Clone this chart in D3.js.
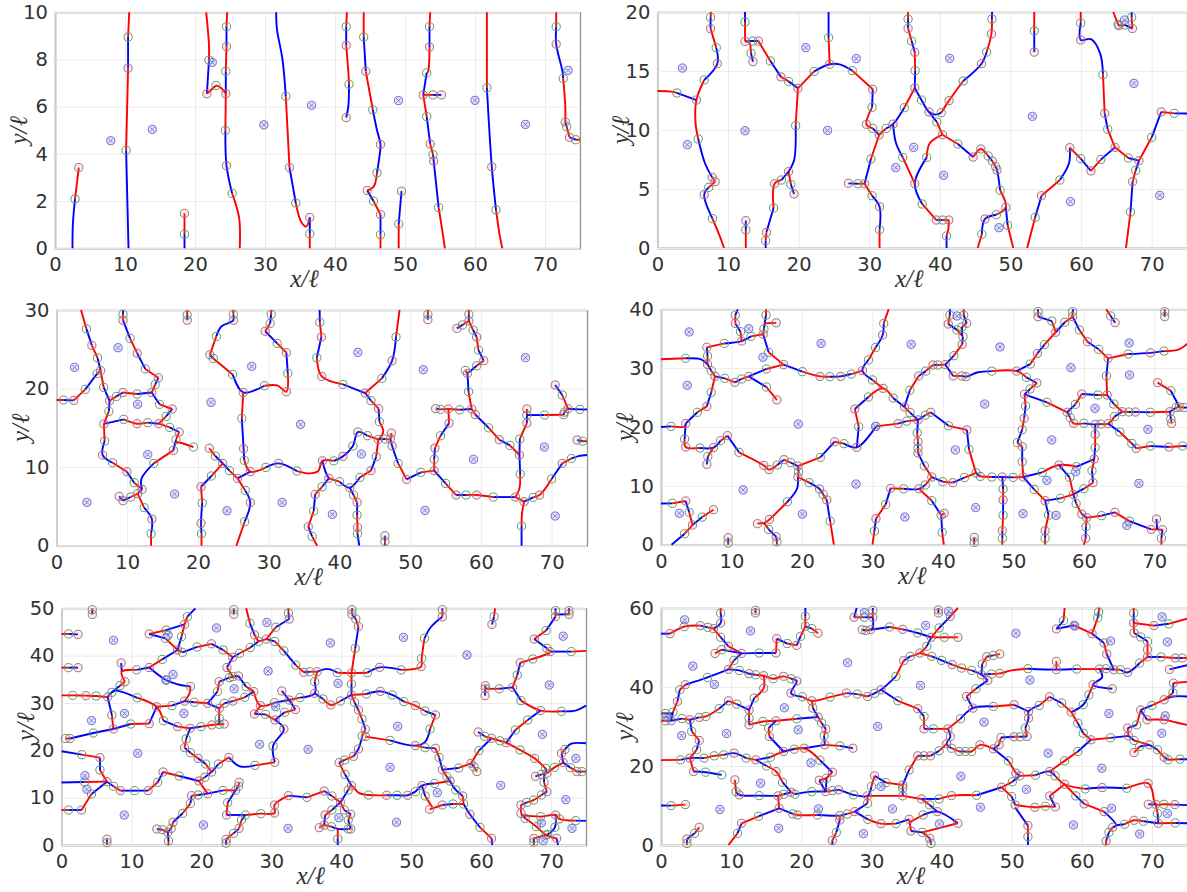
<!DOCTYPE html>
<html><head><meta charset="utf-8">
<script src="https://cdn.jsdelivr.net/npm/d3@7/dist/d3.min.js"></script>
<style>html,body{margin:0;padding:0;background:#fff}svg{display:block}
.tick text{font-family:"DejaVu Sans",sans-serif;font-size:19.5px;fill:#333}
.lab{font-family:"Liberation Serif","DejaVu Serif",serif;font-style:italic;font-size:25px;fill:#333}
</style></head><body><svg id="c" width="1187" height="892"></svg>
<script>
// marker codes: 1 green node, 2 pink node (colour switches there); 3 green, 4 pink (colour continues)
const curves1 = [
["r",[10.6,10],[10.44,8.95,1],[10.44,7.63,2],[10.16,4.15,1],[10.5,0]],
["b",[2.5,0],[2.55,1],[2.86,2.09,1],[3.4,3.42,2]],
["b",[18.5,0],[18.5,0.6,1],[18.5,1.48,2]],
["r",[24.6,10],[24.5,9.39,1],[24.5,8.55,2],[24.4,7.5,1],[24.4,6.55,2],[24.34,4.99,1],[24.5,3.5,4],[25.3,2.33,1],[26.3,1.3],[26.4,0]],
["r",[21.6,10],[22,8.6],[22,7.97,1],[21.7,6.55,2],[23,6.9,3]],
["r",[23,6.9],[23.7,6.8],[24.4,6.55]],
["b",[31.6,10],[31.7,9.3],[32.5,8],[32.97,6.44,1],[33.5,3.42,2],[34.4,1.92,1],[35.2,1.1],[35.9,0.92],[36.4,1.31,2],[36.4,0.62,1],[36.4,0]],
["r",[41.7,10],[41.6,9.39,1],[41.6,8.6,2],[41.9,7.5],[42,6.95,1],[41.9,6],[41.6,5.54,2]],
["r",[44.1,10],[44.1,8.95,1],[44.4,7.5,2],[45.4,5.87,1],[46,5],[46.5,4.4,4],[46.4,4],[46,3.2,1],[45.5,2.6],[44.6,2.45,2],[45.5,2,1],[46.5,1.43,2],[46.5,0.58,1],[46.5,0]],
["r",[49.1,0],[49.1,1.03,1],[49.5,2.42,2]],
["r",[53.6,10],[53.5,9.39,1],[53.5,8.53,2],[53.3,7.5],[53.1,7.43,1],[52.6,6.5,2],[53.1,5.58,1],[53.6,4.42,2],[54,3.97,1],[54.1,3.7,4],[54.8,1.73,1],[55.3,0.8],[55.7,0]],
["r",[52.6,6.5],[54,6.5,1],[55.2,6.5,2]],
["r",[61.7,10],[61.7,6.8,1],[62.4,3.45,4],[63,1.63,1],[63.5,0.6],[63.9,0]],
["r",[71.6,10],[71.6,9.39,1],[71.6,8.65,4],[72.5,7.5],[72.6,7.2,1],[72.9,6],[72.9,5.35,2],[73.1,5.15,1],[73.5,4.7,2],[74.4,4.6,1],[75,4.6]]
];
const crosses1 = [[7.97,4.56],[13.9,5.04],[22.47,7.88],[29.84,5.23],[36.65,6.06],[49.07,6.26],[60,6.27],[67.2,5.25],[73.3,7.54]];

const curves2 = [
["r",[7.6,20],[7.53,19.55,1],[7.53,18.59,2],[8.33,16.98,1],[8.49,15.62,4],[6.63,14.24,1],[5.52,12.54,4],[5.4,10.6],[5.78,9.24,1],[6.74,7.18],[7.75,5.99,2],[8.17,5.62,4]],
["r",[8.17,5.62],[7.27,5.14,1],[6.63,4.52,4],[7.8,2.49,1],[8.86,0.96],[9.44,0]],
["r",[0,13.3],[2,13.25],[2.76,13.14,1],[5.52,12.54]],
["b",[12.41,20],[12.41,19.15,1],[12.41,17.51,2],[13.5,17.54,3],[14.3,17.54,2],[16,15.85,1],[17.5,14.5,2],[18.57,14.12,1],[19.9,13.53,2],[22.2,14.97,1],[24.4,15.57,4],[25.8,15.56],[27.6,15.03,1],[30.5,13.45,2],[30.4,11.92,1],[29.6,10.48,4],[30.5,10.14,1],[31.4,9.58,2],[32.4,10.14,1],[33.37,10.5,4],[34.96,11.89,1],[36.45,13.56,2],[37.4,12.54,3],[38.46,11.53,4],[39.4,11.3],[40.2,11.47,1],[41.3,12.49,4],[43.3,14.15,1],[45.9,15.62,4],[46.63,16.61,1],[47.3,18.14,4],[47.37,19.4,1],[47.4,20]],
["r",[12.41,17.51],[13,17.4],[13.26,16.5,1],[13.53,15.79,2]],
["b",[24.24,20],[24.24,17.82,1],[24.4,15.57]],
["r",[19.9,13.53],[19.58,10.37,1],[19.36,7.46],[18.57,6.47,2],[18.9,5.4,1],[19.36,4.58,2]],
["b",[18.57,6.47],[17.56,5.76,1],[16.6,5.45,4],[16.45,3.39,1],[15.44,1.33,2],[15.33,0.62,1],[15.33,0]],
["b",[12.52,2.32,2],[12.52,1.53,1],[12.52,0]],
["r",[31.4,9.58],[30.24,7.54,1],[29.34,5.45,2],[28.4,5.45,1],[27.05,5.48,2]],
["r",[29.34,5.45],[30.4,4.43,1],[31.46,3.5,4],[31.46,1.55,1],[31.46,0]],
["r",[35.5,20],[35.5,19.4,1],[35.5,18.6,2],[36,17.54,1],[36.45,16.58,2],[36.5,15.03,1],[36.45,13.56]],
["b",[38.46,11.53],[39.57,10.68,1],[40.37,9.6,4]],
["r",[40.37,9.6],[38.57,8.87],[38.14,7.68,1],[36.45,5.45,4],[37.5,3.73,1],[39.5,2.37,2],[40.4,2.37,1],[41.27,2.37,2]],
["r",[41.27,2.37],[41.2,1.6],[40.95,1.02,1],[40.95,0]],
["b",[33.37,10.5],[33.8,8.87],[34.75,7.68,1],[36.45,5.45]],
["r",[40.37,9.6],[42.55,8.81,1],[44.72,7.71,2],[45.8,8.39,4],[46.84,7.8,1],[47.43,7.37,2],[47.9,6.9,1],[48.1,6.6,4],[48.54,4.89,1],[49.34,3.45,4],[48,2.82,1],[46.4,2.46,4],[45.94,1.16,1],[45.36,0]],
["b",[49.34,3.45],[49.6,1.92,1],[50.4,0]],
["r",[53.37,20],[53.37,18.4,1],[53.37,16.6,2]],
["r",[52.36,0],[53.5,2.6,1],[54.4,4.43,2],[57,5.76,1],[58.3,7.2],[58.4,8.5,2],[59.95,7.57,1],[61.4,6.53,2],[62.8,7.5,1],[64.8,8.53,2],[66.7,7.63,1],[68.2,7.4,4]],
["b",[68.2,7.4],[67.74,6.58,1],[67.3,5.62,2],[67,3.05,1],[66.36,0]],
["r",[68.2,7.4],[70,9.38,1],[71.35,11.53,2],[73.2,11.41,1],[75,11.4]],
["r",[59.95,20],[59.95,19.07,1],[59.95,17.63,4],[61.4,17.7],[62.7,16.5],[63.1,14.7,1],[63.34,11.41,2],[63.77,10.06,1],[64.8,8.53]],
["r",[64.56,20],[65.25,18.96,1],[65.36,18.84,2],[66.2,18.9,1],[67.27,18.6,2],[67.16,19.55,1],[67.16,20]]
];
const crosses2 = [[3.55,15.25],[4.24,8.76],[12.41,9.94],[21,16.98],[24.1,9.97],[28.17,16.05],[41.4,16.07],[36.3,8.53],[33.74,6.81],[40.53,6.16],[48.38,1.72],[53.1,11.16],[58.5,3.93],[67.48,13.95],[71.14,4.46],[66.15,19.32]];

const curves3 = [
["r",[3.47,30],[4.23,27.6,1],[5,25.5,2],[5.8,23.9,1],[6.24,22.3,2],[5.75,21.9,1],[4.07,19.9,1],[2.44,18.5,2],[0.98,18.54,1],[0,18.55]],
["r",[6.24,22.3],[6.67,20.15,1],[7.5,18.45,2],[8.47,19,1],[9.4,19.5,2],[11.4,19.3,1],[13.46,19.5,2],[13.95,20.5,1],[14.4,21.38,2],[12.55,22.5,1],[11.4,24.5,2],[10.4,26.4,1],[9.4,28.7,2],[9.4,29.45,1],[9.4,30]],
["b",[13.46,19.5],[14.57,18,1],[16.36,17.4,2],[15.5,16.46,1],[14.45,15.53,2],[12.9,15.66,1],[11.4,15.53,4],[9.5,16.08,1],[6.7,15.5,2]],
["b",[7.5,18.45],[7.4,17.1,1],[6.7,15.5]],
["r",[6.7,15.5],[6.8,13.33,1],[6.52,11.54,4],[7.93,10.56,1],[9.95,9.42,2],[10.98,8.02,1],[12.1,7.17,2],[11.47,6.62,4]],
["b",[9.4,5.73,2],[10.5,6.2,1],[11.47,6.62]],
["b",[8.86,6.28,2],[9.4,5.73]],
["r",[11.47,6.62],[12.39,4.84,1],[13.48,3.39,4],[13.37,1.53,1],[13.37,0]],
["r",[14.45,15.53],[16,15.06,1],[17.34,14.47,2],[16.9,13.49,1],[16.52,12.13,2],[13.75,10.48,1],[12,8.5],[12.1,7.17]],
["r",[16.8,13.2],[17.5,13.1],[19.35,12.56,1]],
["r",[18.48,30],[18.48,29.36,1],[18.48,28.7,2]],
["r",[25,30],[25,29.44,1],[25,28.68,4],[23.3,27.9],[22.6,26.64,1],[21.68,24.3,2],[22.17,23.84,1],[24.9,21.8,1],[26.4,19.5,4],[29.4,20.36,1],[31.2,20.4],[32.5,19.6,4],[32.7,21.93,1],[32.5,24.57,2],[31.2,25.75,1],[29.5,27.3,2],[30.2,28.3,1],[30.35,29.44,1],[30.35,30]],
["r",[26.4,19.5],[26.2,16.2,1],[26.45,12.35,4],[26.55,10.86,1],[27.4,9.42,4],[29.6,9.97,1],[31.4,10.48,4],[34,9.5,1],[35.8,9.2],[37,9.5],[37.6,10.8,4],[39.2,10.8,1],[40.5,11.37,4],[41.9,12.69,3],[42.6,14.47,4],[43.96,14,1],[45.5,13.53,2]],
["b",[27.4,9.42],[25.6,8.57,2],[24.45,9.55,1],[23.5,10.48,4],[22.45,11.41,1],[21.6,12.4,2]],
["r",[23.5,10.48],[21.9,8.87,1],[20.43,7.5,2],[20.6,5.43,1],[20.43,2.84,4],[20.5,1.53,1],[20.5,0]],
["r",[25.6,8.57],[26.68,7.04,1],[27.4,5.5,4],[26.6,3.05,1],[25.43,0]],
["b",[37.2,30],[37.23,28.43,1],[37.45,26.56,2],[36.8,23.93,1],[37.5,21.55,4],[40.5,20.53,1],[43.64,19.43,2],[46,21.3,1],[47.45,23.55,4],[48,26.56,1],[48.5,30]],
["b",[43.64,19.43],[44.46,18.46,1],[45.54,17.44,2],[45.65,15.78,1],[46.2,14.5],[45.54,13.53]],
["b",[45.5,13.53],[46.5,13.58,1],[47.2,13.6,4],[47.34,14.34,4]],
["b",[47.2,13.6],[47.45,12.68,4],[48.3,10.48,1],[49.5,8.44,2],[51.5,9.33,1],[53.4,9.55,2]],
["r",[45.5,13.53],[45.2,11.33,1],[44.46,9.55,2],[42.9,8.7,1],[41.46,7.38,4],[40,8.15,1],[38.5,8.57,2],[37.55,7.5,1],[36.57,6.53,2],[36.36,4.41,1],[35.6,2.42,2],[36.14,1.19,1],[36.85,0]],
["b",[37.6,10.8],[38,9.5],[38.5,8.57]],
["b",[41.46,7.38],[42,6.45,1],[42.5,5.5,2],[42.5,3.9,1],[42.55,2.33,4],[42.55,1.53,1],[42.8,0]],
["b",[46.43,1.27,2],[46.43,0.55,1],[46.43,0]],
["r",[52.5,30],[52.5,29.44,1],[52.5,28.77,2]],
["r",[53.4,9.55],[53.4,11,1],[53.5,12.43,2],[54.3,14,1],[55.5,15.6,2],[55.4,17.4,4]],
["b",[53.4,9.55],[55,7.93,1],[56.5,6.45,2],[57.9,6.45,1],[59.4,6.45,4],[61.75,6.19,1],[64.9,6.19,2],[66.1,5.6,4]],
["r",[64.9,6.19],[65.45,7.3],[65.55,9.12,1],[65.45,11.54,2],[64.1,12.77,1],[62.6,13.49,2],[61.1,15,1],[59.2,16.7,2],[58.7,17.4,2]],
["b",[65.45,11.54],[65.5,13.58,1],[66.5,15.6,2],[66.5,16.63,1],[66.5,17.4,2]],
["b",[66.5,16.63],[69,16.63,1],[71.7,16.67,2],[71.8,17,1],[72.3,17.44,2],[74,17.35,3],[75,17.35]],
["r",[72.3,17.44],[71.5,19.18,1],[70.5,20.45,2]],
["b",[58.7,17.4],[57,17.3,1],[55.4,17.4],[54.3,17.35,1],[53.6,17.44,2]],
["r",[58.7,17.4],[58.25,19.6,1],[58.1,21.93,2],[57.8,22.3,1]],
["b",[58.1,21.93],[59.4,22.9,1],[60.4,23.55,2],[59.65,24.9,1],[59.4,26.56,2],[58.9,27.45,1],[58.3,28.6,2],[58.3,29.44,1],[58.3,30]],
["r",[58.3,28.6],[57.4,28.1,1],[56.6,27.66,2]],
["b",[66.1,5.6],[67.4,6.15,1],[68.3,6.45,4],[70,8.49,1],[71.5,10.48,2],[72.8,11.1,1],[73.8,11.4],[75,11.54]],
["r",[66.1,5.6],[65.8,4],[65.75,2.5,1],[65.75,0]],
["b",[73.6,13.45,2],[74.4,13.3,1],[75,13.3]]
];
const crosses3 = [[2.55,22.7],[8.7,25.2],[4.3,5.52],[11.47,18],[12.9,11.6],[16.7,6.58],[21.85,18.24],[27.6,22.83],[24.1,4.45],[31.9,5.5],[34.5,15.44],[39,3.99],[42.6,24.6],[43.1,11.67],[51.85,22.4],[52.1,4.5],[58.96,11],[66.3,23.93],[68.97,12.56],[70.5,3.78]];

const curves4 = [
["b",[1.5,0],[3.35,1.87,1],[4.47,3.34,2],[5.85,4.7,1],[7.45,5.95,4]],
["b",[0,7],[1.6,7.03,1],[3.5,7.42,2],[4,5.5,1],[4.47,3.34]],
["b",[9.53,1.19,2],[9.53,0.3,1],[9.53,0]],
["b",[16.34,1.36,2],[16.44,0.5,1],[16.44,0]],
["r",[13.68,3.57,2],[14.58,3.63],[15.27,2.6,1],[16.34,1.36]],
["r",[14.58,3.63],[15.38,4.3,4],[17.94,7.3,1],[19.3,9.5],[19.42,11.5,2],[19.53,12.4,1],[19.42,13.37,2]],
["r",[19.42,11.5],[21.02,10.54,1],[22.5,9.46,4],[23,8.55,1],[23.52,7.6,2],[24,4,1],[24.53,0]],
["b",[0,20],[1.44,20.1,1],[3.4,20.1],[3.5,20.6,2],[3.35,17.96,1],[3.5,16.6,4],[5.53,16.43,1],[7.45,16.5,4],[8.46,17.68,1],[9.42,18.53,2],[11.07,15.7,1],[14.58,13.48,4],[15.33,12.75,4],[16.5,13.54,1],[17.45,14.45,2],[18.4,13.94,1],[19.42,13.37,2],[22.6,14.84,1],[24.64,17.5,2],[25.97,17.17,1],[27.78,16.54,4],[30.5,20.1,1],[33.63,20.57,2],[34.86,21,1],[36.46,21.2,2]],
["r",[7.45,16.5],[6.65,15,1],[6.5,13.65,2]],
["b",[27.78,16.54],[28.05,20.06,1],[27.5,23.06,2],[29.43,25.1,1],[31.5,26.57,4],[32.94,24.93,1],[34.54,23.4,2],[35.34,22.44,1],[36.46,21.2]],
["r",[31.5,26.57],[30,28,1],[28.58,29.58,4],[29.43,31.4,1],[30.44,33.5,1],[31.45,35.64,4],[31.6,37.6,1],[32.3,40]],
["r",[28.58,29.58],[27,29,1],[25.5,28.6,4],[23.95,28.55,1],[22.56,28.6,4],[20.06,29.4,1],[17.4,30.6,2],[15.27,32.7,1],[14.5,35.75,2],[14.6,36.66,1],[14.9,39,1],[14.9,40]],
["r",[14.6,37.6],[16.34,37.7,2]],
["r",[14.5,35.75],[12.77,35.4,1],[11.44,34.6,4],[9,34.2,1],[6.5,33.54,2],[6.6,32.07,1],[6.6,30.65,2],[7.13,29.57,1],[7.66,28.6,2],[9.05,28.27,1],[10.48,27.6,2],[11.44,28.16,1],[12.45,28.6,2],[14.95,26.8,1],[16.44,24.6,2]],
["b",[12.45,28.6],[14.95,29.86,1],[17.4,30.6]],
["r",[7.66,28.6],[7.13,25.9,1],[6.5,23.5,2],[5.16,22.5,1],[3.5,20.6]],
["r",[0,31.5],[3.5,31.67,1],[5.7,31.5],[6.6,30.65]],
["r",[11.44,34.6],[11.28,36.2,1],[10.54,37.6,2],[10.54,39,1],[10.9,40]],
["b",[36.46,21.2],[37.5,22,1],[38.27,22.5,2],[40.8,20.2,1],[43.4,19.5,2],[43.7,16.2,1],[44.7,12.2,1],[45.3,11.6,2]],
["b",[36.46,21.2],[36.35,19,1],[36.46,17.5,2],[36.46,16.4,1],[36.46,15.6,2],[37.36,13.4,1],[38.42,11.5,2],[39.97,10.7,1],[41.4,10.54,2],[43.05,11.4,1],[44.7,12.2]],
["r",[38.42,11.5],[37.5,10.14,1],[36.6,9.5,4],[34.43,9.5,1],[32.57,9.57,2],[31.88,6.85,1],[30.5,4.42,2],[30.28,2.32,1],[30,0]],
["r",[36.6,9.5],[38.42,7.48,1],[39.75,5,2],[40.18,5.33,4]],
["b",[39.75,5],[39.9,2.1,1],[40.13,0]],
["b",[34.54,23.4],[35.3,26.23,1],[36.56,28.67,2],[37.57,29.5,1],[38.6,30.54,2],[39.28,30.54,1],[40.34,30.6,2],[41.56,32.12,1],[42.73,34.05,2],[42.84,35.35,1],[41.99,36.5,1],[40.76,37.5,2],[40.98,39,1],[41,40]],
["r",[43.37,37.62,2],[42.7,37,1],[42.73,35.5]],
["b",[43.37,37.62],[42.95,39,1],[42.95,40]],
["b",[40.34,30.6],[41.46,28.67,2],[42.7,28.67,1],[43.27,28.55,4],[45,29.3],[46.94,29.5,1],[50.45,29.5,4],[51.84,28.44,1],[53.33,27.48,2],[52.37,26.46,1],[51.57,25.55,2],[51.73,23.57,1],[51.52,21.47,2],[51.25,19.55,1],[50.56,17.34,1],[51.25,16.66,2],[51.25,14.1,1],[51.4,11.5,2]],
["b",[51.57,25.55],[54.76,24.2,1],[57.64,22.5,2],[58.06,21.6,1],[58.54,20.62,4],[60,20.62,1],[61.6,20.45,4],[62.4,20.5,1],[63.44,20.57,4],[64.34,21.76,1],[65.46,22.6,2],[66.4,22.55,1],[67.32,22.55,4],[69.44,22.5,1],[72.2,22.6,2],[73.1,23.3,1],[73.55,23.4,4],[74.2,23.3,1],[75,23.3]],
["b",[72.2,22.6],[72.34,21.36,1],[72.45,20.62,2]],
["b",[57.64,22.5],[58.8,23.85,1],[59.7,25.6,2],[62,25.44,1],[63.3,25.44,2],[64.26,23.9,1],[65.46,22.6]],
["r",[63.3,25.44],[63.2,28.67,1],[63.44,31.67,2],[66.3,32.4,1],[69.45,32.6,4],[71.37,32.9,1],[73.5,33.2],[75,34.5]],
["r",[63.44,31.67],[62.1,33.2,1],[60.5,34.5,2],[59.35,36.5,1],[58.4,38.75,2],[58.4,39.6,1],[58.5,40]],
["r",[58.4,38.75],[57.3,37.8,1],[56,36.1,2],[54.4,34,1],[53.4,32.5,2],[52.4,30.7,1],[50.45,29.5]],
["r",[56,36.1],[55.45,38,1],[53.5,38.75,2],[53.5,39.6,1],[53.5,40]],
["r",[63.17,40],[63.8,38.87,1],[64.44,37.73,2]],
["b",[71.47,38.75,2],[71.47,39.6,1],[71.47,40]],
["r",[70.46,27.54,2],[72.34,26.17,1],[73.55,23.4]],
["b",[63.44,20.57],[65.1,19.15,1],[66.8,17.2,1],[67.43,16.37,2],[69.44,16.77,1],[72.06,16.6,2],[74,16.77,1],[75,16.7]],
["b",[61.6,20.45],[61.6,18.75,2],[61.6,16.5,1],[61.47,14.56,2],[61.15,12.58,1],[61.3,10.54,2],[60,9.52,1],[58.5,8.55,2],[56.68,7.88,1],[54.5,7.48,2],[52.95,9.4,1],[51.4,11.5]],
["b",[51.4,11.5],[54.1,12.3,1],[56.47,13.54,4],[58.97,13.26,1],[61.47,14.56]],
["b",[56.47,13.54],[57.97,11.44,1],[58.5,8.55]],
["b",[58.5,8.55],[58.9,7,1],[59.7,5.2,2],[60.4,4.6,2],[60.3,3.06,1],[60.25,1.08,2],[60,0]],
["r",[60.4,4.6],[62.5,4.93,1],[64.4,5.5,2],[66.47,4,1],[69.56,2.6,2],[70.4,2.6],[71.15,2.55,2],[71,1.08,1],[71,0]],
["b",[70.4,2.6],[70.3,4.36,2]],
["b",[54.5,7.48],[54.98,5.04,1],[54.5,2.38,2],[54.5,1.08,1],[54.5,0]],
["r",[48.43,0],[48.43,1.08,1],[48.43,2.38,2],[48.54,5,1],[48.54,7.6,2],[48.54,9.46,1],[48.43,11.5,2]],
["r",[45.3,11.6],[46.94,11.5,1],[48.43,11.5],[49.97,11.44,1],[51.4,11.5]],
["b",[44.44,1.25,2],[44.44,0.4,1],[44.44,0]]
];
const crosses4 = [[4,36.15],[3.73,27.08],[2.6,5.33],[12.45,36.7],[14.47,31.84],[11.65,9.3],[22.72,34.2],[19.48,20.5],[20.06,5.2],[27.67,10.3],[30.44,20.1],[34.6,4.7],[35.5,34.05],[41.78,16.1],[42,38.87],[45.93,23.9],[44.65,6.3],[48.1,33.6],[51.36,5.27],[54.76,10.93],[55.44,17.8],[56.05,4.99],[58.17,30.08],[58.84,12.4],[61.58,23.17],[66.1,3.29],[66.42,34.28],[66.47,28.84],[69.08,19.6],[67.8,10.42]];

const curves5 = [
["b",[4.4,48.7,2],[4.4,49.7,1],[4.4,50]],
["b",[2.36,44.5,2],[1,44.58,1],[0,44.58]],
["b",[2.36,37.46,2],[1,37.46,1],[0,37.46]],
["r",[0,31.6],[1.6,31.6,3],[3.5,31.55,4],[4.95,31.48,3],[6.6,31.27,2],[7.2,32.25,3],[7.8,32.6],[10.83,31.1,1],[13.6,29.2,4],[14.57,26.27,1],[16.6,25,2],[18.4,24.65,2],[19.96,25,1],[21.5,25.35,4],[22.55,25.5,3],[23.27,25.56,2]],
["b",[6.6,31.27],[7.2,27.46,1],[7.42,24.5,2],[9.9,25.56,1],[12.54,25.63,2],[13.6,29.2]],
["r",[0.55,22.5,1],[1.2,22.5,2],[4.56,23.66,3],[7.42,24.5]],
["r",[9.07,34.5,2],[8.36,33.66,1],[7.2,32.25]],
["b",[8.53,38.45,2],[8.6,37],[8.6,36.6]],
["r",[9.07,34.5],[8.6,36.6],[10.73,37,1],[12.54,37.5,2],[14.4,39.2,1],[16.6,41.2,2],[17.3,40.7,1],[19.4,41.83,1],[21.45,42.5,2],[23.1,41.2,1],[24.5,39.65,2],[25.47,40.5,1],[27,41.7,1],[28.16,43,1],[29.3,43.5,2],[30.5,43,1],[31.8,41,1],[33.5,38,1],[34.65,36.48,2],[35.5,36.6,1],[36.57,36.6,2],[38,37.2],[39.44,36.4,1],[41.47,36.34,4],[43.73,36.4,1],[45.5,37.53,4],[48.57,37,1],[51.43,37.68,4],[51.5,39.4,3],[51.9,43.66,1],[52.8,46],[54.46,48.2,2],[54.46,49.7,1],[54.46,50]],
["b",[12.54,37.5],[14.96,34.85,3],[17,33.8],[18.43,33.5,2],[18.3,32],[17.6,30.4,2],[19,30.14,1],[20.9,29.93,2],[22.55,28.87,2]],
["b",[20.9,29.93],[22.3,32.4,1],[22.55,34.5,2],[24,35.35,1],[25.3,35.7,2],[26.4,33.45,1],[27.5,32.4,2],[26.2,31.2,1],[24.5,30.4,2],[23.27,29.93,1],[22.55,28.87]],
["r",[22.55,28.87],[22.55,26.76,1],[22.55,25.5]],
["r",[13.6,29.2],[15.78,29.44,1],[17.6,30.4]],
["b",[24.5,39.65],[23.65,37.5,2],[24.5,35.56,1],[25.3,35.7]],
["r",[27.5,32.4],[28.44,29.44,4],[30.47,30.07,1],[32.56,30.63,2],[34.1,31.13,1],[36.2,32.04,4],[36.2,34.5,1],[36.57,36.6]],
["b",[32.56,30.63],[31.5,32.54,2]],
["b",[32.56,30.63],[33.44,28.6,2],[31.9,28.03,1],[30.53,26.4,2],[29.15,27.6,1],[27.6,27.68,2],[28.44,29.44]],
["b",[30.53,26.4],[31.8,24.5,4],[30.25,20.9,3],[30.5,17.46,2],[27.67,16.83,1],[25.5,16.6],[23.93,18.5,2],[22.44,17.1,1],[21.45,15.42,2],[20.63,17.1,1],[19.53,18.3,2],[18.43,19.5,1],[17.6,20.56,2],[17.82,22.4,1],[18.4,24.65]],
["b",[21.45,15.42],[20.5,14.3,1],[19.64,13.52,2],[16.83,14.58,1],[14.52,15.42,2],[13.75,13.24,1],[12.38,11.48,2],[10.45,11.48,3],[8.42,11.48,2],[7.43,12.4,1],[6.5,13.38,2],[5.5,15.85,1],[5.5,18.45,2],[2.9,19.08,1],[0,19.8]],
["r",[6.5,13.38],[3.3,13.3,1],[0,13.2]],
["b",[6.5,13.38],[4.3,10.77,1],[2.86,7.39,2],[1,7.39,1],[0,7.39]],
["r",[19.64,13.52],[20.9,10.85,2],[19.53,10.56,1],[18.6,10.42,2],[18.43,8.8,1],[17.33,6.7,1],[15.95,4.8,2],[15.68,3.5,1],[15.2,2.68,2],[14.4,3.24,1],[13.64,3.38,2]],
["b",[15.2,2.68],[15.3,0.85,1],[15.3,0]],
["b",[20.9,10.85],[23.1,11.55,1],[24.9,11.55,2],[25.3,12.4,1],[25.4,13.24,2]],
["b",[24.9,11.55],[23.76,8.94,1],[23.6,6.34,2],[26.3,6.34,1],[28.5,6.62,3],[30.47,6.76,4],[30.47,8.45,4],[32.45,10.42,2],[35.1,10.07,1],[37.57,11.4,2],[38.67,10.35,1],[39.88,9,2],[41,11.62,1],[41.47,12.54,4],[42.5,11],[43.9,10.56,3],[46.48,10.5,2],[48,10.5,3],[49.5,10.5,4],[50.6,11.27,3],[51.54,12.54,4],[53.36,13,1],[55.56,13.52,2],[56.38,11.62,3],[57.37,10.35,2],[57.5,8.66,1],[58.4,6.48,4],[59.84,3.73,1],[61.5,1.4,2],[61.6,0]],
["r",[57.5,8.66],[56,8.66,1],[54.46,8.45,2],[52.64,7.54,2]],
["b",[51.54,12.54],[52,10.35,1],[53,8]],
["b",[41.47,12.54],[40.53,14.93,1],[39.7,17.4,2],[40.5,17.96,1],[41.75,18.73,2],[42.46,20.28,4],[43,23,1],[43.45,24.44,2],[42.96,26.62,1],[42.46,28.52,2],[41.9,30.14,1],[41.47,31.7,2],[41.47,34,1],[41.47,36.34]],
["b",[41.47,31.7],[39.88,30.42,1],[38.5,29.58,4],[37.4,30.85,1],[36.2,32.04]],
["r",[41.47,36.34],[42,41.55,1],[42.46,46.13,2],[42.08,47.75,1],[41.53,48.73,2],[41.53,49.7,1],[41.6,50]],
["r",[41.47,31.7],[43.6,31.9,1],[45.6,32.46,4],[47.3,31.7,3],[48.96,30.28,1],[50.6,29.44,4],[51.97,28.3,1],[53.47,27.46,2],[52.7,24.5,1],[52,21.8],[50.6,21,4],[46.98,22.1,1],[43.45,22.9,2]],
["r",[50.6,21],[52,20.56,1],[53.47,20.42,2],[54,18.5,1],[54.46,15.92,2],[55.1,14.44,1],[55.56,13.52]],
["b",[54.46,15.92],[56.8,16.27,1],[58.56,17.25,2],[59,16.5,1],[59.4,15.5,2]],
["r",[58.56,17.25],[59.68,19.93,1],[61.5,22.54,2],[60.5,22.96,1],[59.57,23.87,2]],
["r",[61.5,22.54],[62.7,22,3],[63.6,21.6,4],[65.57,20.07,3],[67.66,18.3,4],[69.2,16.2,1],[69.4,15.14,2],[68.64,14.93,1],[67.77,14.5,2]],
["b",[69,14.9],[69,13.24,1],[69.4,11.27,2],[68.64,10.56,1],[67.5,9.5,3],[66.54,9,1],[65.7,8.45,2],[65.7,6.7,2],[66.3,5.63,1],[67.9,3.87,3],[69.3,2.1,3],[70.8,1.4,2],[71,0]],
["r",[65.7,6.3],[68.5,6,3],[70.66,6.34,4],[71.2,5.5,4],[73.54,5.14,1],[75,5.1]],
["b",[70.66,6.34],[70.55,3.73,3],[69.54,2.25,1],[67.54,1.4,2],[67.54,0.6,1],[67.54,0]],
["r",[69.4,15.14],[70.5,16.4,3],[71.74,17.4,2],[71.5,19.37,2],[72,20.2,1],[72.9,21.4],[75,21.48]],
["b",[71.74,17.4],[72.77,16.34,1],[73.7,15.5,2],[74.4,15.5,1],[75,15.5]],
["r",[67.6,43.5,2],[69.3,45.3,1],[70.64,48.24,2],[70.64,49.5,1],[70.64,50]],
["b",[70.64,48.7],[72.57,48.73,2],[72.57,49.5,1],[72.57,50]],
["b",[67.6,43.5],[69.4,41.55,1],[69.85,40.85,2],[72.9,40.85,1],[75,41]],
["r",[69.85,40.5],[67.4,39.3,3],[65.6,38.5,2],[65.17,35.9,1],[64.5,33.3,2],[62.6,33,1],[60.6,33,2],[60.6,33.66,2]],
["b",[60.6,33],[60.56,31.55,2]],
["b",[64.5,33.3],[65.7,30.5,1],[68.5,28.4,4],[71.5,28.24,1],[73.5,28.4],[75,29.44]],
["b",[68.5,28.4],[66.66,26.4,1],[64.9,24.3,1],[63.6,21.6]],
["r",[62,50],[61.85,48.24,1],[61.55,46.6,2]],
["b",[32.56,47.75,2],[32.45,49,1],[32.45,50]],
["b",[32.56,47.75],[30.64,46,1],[29.3,43.5]],
["r",[26.4,50],[26.95,46.83,1],[27.6,44.4,2],[28.16,43]],
["b",[24.64,48.73,2],[24.64,49.7,1],[24.64,50]],
["b",[19.14,50],[18,48.24,1],[17.6,46.6,2],[14.96,45.4,1],[12.54,44.58,2],[14.85,43.66,1],[16.6,41.2]],
["r",[17.6,46.6],[17.16,44,1],[16.6,41.2]],
["b",[23.54,1.2,2],[23.54,0.4,1],[23.54,0]],
["r",[23.54,1.2],[24.6,2.46,1],[25.4,3.52,2],[25.74,5.28,1],[26.3,6.34]],
["b",[6.5,1.2,2],[6.5,0.5,1],[6.5,0]],
["b",[39.88,9],[38.67,7.4,1],[37.7,6.34,2],[37.57,4.2,2],[36.85,3.66,2]],
["r",[37.57,4.2],[38.6,3.87,1],[39.5,3.4],[41,3.38,1],[41.36,3.38,2],[41,5.28,1],[41.36,6.5,2],[40.43,7.4,1],[39.88,9]],
["r",[39.5,3.4],[39.5,1.27,1],[39.5,0]]
];
const crosses5 = [[7.43,43.24],[15.24,44.3],[22.17,45.85],[29.37,47],[38.45,42.68],[48.9,43.87],[57.98,40.14],[71.73,44.1],[15.95,36],[14.96,34.85],[29.54,36.76],[39.55,34.15],[24.7,33],[30.64,29.2],[69.75,33.8],[4.3,26.27],[9,27.8],[17.5,27.8],[48.08,25.07],[68.76,23.38],[10.9,19.37],[28.33,21.27],[35.26,20.2],[73.55,18.3],[46.98,16.4],[3.36,14.65],[3.63,11.76],[62.8,12.6],[53.74,11.05],[72.1,9.58],[8.97,6.34],[39.66,5.77],[47.9,4.8],[20.3,4.23],[32.4,3.52],[68.6,4.65],[73,3.52],[68.88,0.92]];

const curves6 = [
["b",[0,53.5],[1.28,53.5,2],[3.31,55.28,3],[5.6,55.54,2],[6.68,55.1,1],[7.48,54.78,2],[8.5,56.2,4],[8.5,58.7,1],[8.5,60]],
["r",[7.48,54.78],[8.5,52.6,1],[9.62,50.3,2],[11.49,48.52,2],[14,48.6,3],[16.4,48.6,2],[16.5,52.24,2],[18,51,1],[19.35,50.55,2],[19.9,52.83,1],[20.58,55.37,2],[21.5,54.8,1],[22.4,53.6,2]],
["r",[20.58,55.37],[20.58,57.9,1],[20.58,60]],
["b",[11.49,48.52],[8.66,49.45,1],[7.7,48.5,2]],
["b",[11.49,48.52],[10.4,46.75,1],[9.62,44.46,2]],
["b",[9.62,44.46],[6.63,42.43,3],[3.47,40.57,2],[2.67,39.3,1],[2.35,36.35,2],[1.7,33.64,1],[1.44,31.45,2]],
["r",[0,33.4],[0.64,33.3,1],[1.7,33.3]],
["r",[0,31.45],[0.64,31.45,1],[1.44,31.45]],
["b",[9.62,44.46],[11.17,44.2,3],[12.56,43.36,4],[13.47,43.1,1],[14.64,42.86,4],[16,42.1,3],[17.48,42.7,4],[18.54,42.1,1],[19.35,41.5,4],[18.54,38.46,4],[20.15,37.53,1],[21.5,36.5,4],[24.1,37.45,3],[26.46,38.46,2],[28,38.2,1],[29.45,37.6,2],[30.46,38.4,3],[31.37,39.3,4],[33.5,42.7,1],[34.6,46.66,2],[35.54,47.76,1],[36.9,48.6,4],[37.9,50.3,1],[38.54,52.58,2],[40.4,52.58,3],[42.33,52.58,4]],
["b",[38.54,52.58],[36.6,53.68,3],[34.47,54.6,2],[32.6,55.2,1],[29.9,54.5,2],[29.2,54.3,1],[28.7,54.5,2]],
["r",[36.9,48.6],[38.6,47.76,1],[40,46.75,3],[41.53,45.65,2],[42.87,44.8,3],[44.3,44.2,1],[45.7,43.1,4],[46.6,41.68,4]],
["b",[45.7,43.1],[45.8,45.8,1],[46.44,47.68,2],[47.4,48,1],[48.3,48.35,2]],
["b",[46,43.2],[47.14,43.28,1],[48.3,43.45,4],[50,44.2],[52.32,44.63,1],[56.38,44.4,4],[59.27,44.55,1],[62.53,44.55,4],[63.44,44.63,1],[64.57,44.38,2],[65.5,44.38,1],[66.54,43.7,4],[68.25,46.07,1],[69.37,47.6,2],[71.3,47.6,1],[73.33,47.34,2],[74.3,47.34,1],[75,47.34]],
["r",[69.37,47.6],[69.37,49.45,4],[69.37,51.56,1],[68.4,52.66,3],[67.45,53.68,2],[67.4,56.2,2],[67.4,58.7,1],[67.4,60]],
["r",[67.4,56.2],[70.3,55.54,2],[72.4,56,1],[75,57.3]],
["r",[56.38,44.4],[56.38,46.5,2]],
["b",[62.53,44.55],[62.9,42.5],[61.6,40.57,4],[64.35,39.56,2]],
["r",[61.6,40.57],[61,38,1],[60.2,35.5,3],[58.5,33.64,2],[59.43,30.85,1],[60.2,28.3,1],[61.3,26.63,2]],
["r",[58.5,33.64],[57.13,35.93,1],[55.4,37.53,2],[53.93,35.33,1],[52.4,33.8,4],[52.4,32.1,4],[51.95,29.6,1],[52.2,27.47,2],[51.2,27.4,1],[50.35,27.4,2],[48.47,27.2,1],[48.2,25.36,2],[47.4,24.34,2],[45.48,25.36,4],[44.3,23.67,3],[43.4,23.67,1],[42.5,23.67,2],[41.42,24.5,1],[40.73,25.6,4],[41.26,27.47,4],[40.9,29.4,2],[38.85,29.4,1],[37.5,29.4,2],[37.5,32.54,1],[36.6,34.5,2],[33.78,36.5,1],[31.37,39.3]],
["r",[40.9,29.4],[42.7,31.95,1],[44.47,34.66,4],[47.4,35.08,1],[50.35,35.5,2],[52.4,33.8]],
["b",[44.47,34.66],[43.56,37.6,2],[44.9,39.56,1],[46.6,41.68]],
["r",[40.73,25.6],[39.66,23.84,1],[38.43,22.57,2],[37.5,22.57,1],[36.6,22.57,2],[35.38,19,1],[34.47,15.2,2],[34.47,14.4,1],[34.47,12.43,2],[29.45,12.43,2]],
["r",[34.47,15.2],[32.07,15.8,1],[30.46,17.5,2],[30,14.8,1],[29.45,12.43],[27.47,12.68,3],[25.33,13.95,4],[24.43,13.78,1],[23.5,13.5,2],[23.6,16.9,1],[24.43,18.43,2],[22.66,21.47,1],[20.42,24.5,4],[17.48,23.67,4],[15.6,22.23,1],[13.52,21.55,2],[12.14,22,1],[10.42,23.25,4],[8.93,22.82,1],[7.6,22.57,3],[6.15,22,1],[4.12,22,4],[2.78,21.55,1],[0,21.5]],
["b",[23.5,13.5],[22.55,16.4,2],[23.6,16.9]],
["b",[13.52,21.55],[15.07,20,1],[16.4,18.6,4],[17.32,15.9,1],[18.55,13.36,2],[19.1,12.85,1],[21.5,13.5,3],[23.5,13.5]],
["b",[18.55,13.36],[17.5,12.85,1],[16.7,12.43,2],[14,12.5,3],[11.17,12.68,4],[10.7,13.5,1],[10.53,16.5,2]],
["r",[16.7,12.43],[16.84,9.3,2],[18.8,7.86,1],[19.45,7.6,4],[22.3,7.6,1],[25.5,7.44,4],[26.56,7.86,1],[27.63,8.45,2],[29.45,10.56,1],[29.45,12.43]],
["b",[27.63,8.45],[29.5,6.5,1],[31.37,5.4,4],[33.5,5.4,1],[35.38,6.5,2],[35.65,3.55,2],[37.25,3.2,1],[38.32,1.7,2],[38.5,0.4,1],[38.5,0]],
["r",[35.5,5.8],[37.36,7.6,1],[39.4,8.45,4],[42.33,5.5,2],[37.25,3.2]],
["b",[39.4,8.45],[38.32,10.14,1],[37.14,11.66]],
["r",[34.47,12.43],[37.14,11.66,2],[39.66,11.66,1],[41.42,12.5,4],[45,12.6,1],[48.58,14.62,2],[50.1,16,1],[51.15,17.5,2],[53.4,17.67,1],[55.42,18.6,4],[56.2,17.5,1],[57.55,15.38,4],[60.5,14.2,1],[62.9,14.54,4],[66.4,14.37,1],[69.45,15.64,4],[70,14],[70.55,10.3,4],[71.7,10.3,3],[73.27,10.23,2],[75,10.1]],
["b",[70.55,10.3],[69.48,10.3,2]],
["b",[51.15,17.5],[50.6,18.2,2],[49.54,21.3,1],[47.4,24.34]],
["r",[55.42,18.6],[57.55,21.3,3],[59.43,23.67,1],[61.3,26.63]],
["r",[61.3,26.63],[64.1,27.13,1],[66.65,27.64,2],[66.54,29.6,2],[67.83,30.43,1],[68.4,34.2,2],[69.3,31.7,2],[71.73,31.7,4],[73.5,31],[75,30.4]],
["b",[68.4,34.2],[70,35.33,1],[71.73,36.77,2],[73,37.6],[75,37.6]],
["r",[71.73,36.77],[73,38.5,1],[73.06,41,2],[75,41.3]],
["b",[66.65,27.64],[67.45,26.46,1],[69.64,25.36,2],[70.8,24.1,1],[71.73,22.23,2],[72.3,21.6,1],[74,21.72,1],[75,21.7]],
["r",[67.45,23.4,2],[68.25,24.94,1],[69.64,25.36]],
["b",[72.5,44.46,2],[75,45.5]],
["r",[48.58,14.62],[50,12.26,1],[50.5,10.14,2],[53.3,9.55,4],[54.8,9.8,3],[56.23,9.64,2],[55.42,12.43,2],[57.55,15.38]],
["b",[50.5,9.5],[52.32,4.9,2],[52.32,2.1,1],[52.32,0]],
["r",[57.55,15.38],[59.15,12.43,1],[60.34,10.4,2],[63.17,8.45,2],[64.9,5],[64.4,4.5,2],[63.87,3.2,1],[63.47,1,2],[63.47,0]],
["b",[64.9,5],[66.1,5.24,1],[67.45,6.25,4],[68.8,6,1],[70.92,5.5,2],[73.33,5.58,1],[75,5.5]],
["b",[70.92,5.5],[70.8,8,1],[70.55,10.3]],
["r",[14.64,42.86],[14.64,39.7,4],[13.3,37.2,1],[12.56,34.2,2],[12.56,32.1,1],[12.56,30.43,2]],
["b",[12.56,34.2],[10.8,35.67,1],[9.62,36.5,2],[8.28,34.5,1],[6.4,32.54,3],[5.45,32.3,2],[4.12,31.7,2],[3,32,1],[1.44,31.45]],
["b",[4.12,31.7],[4.38,28.74,1],[5.45,26.46,2],[5.08,24.1,1],[4.12,22]],
["r",[12.56,30.43],[14.54,31.28,3],[16.4,31.45,4],[19.35,31.95,1],[22.4,32.4,2],[22.9,30.9,1],[23.5,29.33,2],[23.25,27.64,1],[23.36,25.36,2],[25.5,25.1,1],[27.36,24.5,2]],
["b",[23.36,25.36],[20.42,24.5]],
["b",[22.4,32.4],[21.65,34.66,1],[21.5,36.5]],
["b",[16.4,31.45],[15.34,29.6,1],[15.45,27.47,2],[17.48,23.67]],
["b",[17.48,23.67],[19,24.26,1],[20.42,24.5]],
["r",[4.12,22],[4.65,18.6,2],[6.36,18.43,3],[8.66,17.75,3]],
["b",[0,10],[1.44,9.97,1],[3.47,10.23,2]],
["b",[3.7,1.52,2],[3.7,0.4,1],[3.7,0]],
["b",[3.7,1.52],[4.8,2.96,1],[5.45,4.48,2]],
["r",[9.62,0],[10.9,2.96,1],[11.49,5.5,2],[13.9,7.27,1],[16.84,9.3]],
["b",[24.43,0],[24.43,1.18,2],[25,3.2,1],[25.5,6.34,2],[25.5,7.44]],
["b",[13.47,58.75,2],[13.47,59.4,1],[13.47,60]],
["r",[27.53,57.65,2],[29,57.65,1],[30.2,57.65,2],[30.2,59.4,1],[30.2,60]],
["b",[27.9,60],[27.53,57.65]],
["b",[30.2,57.65],[30.2,55],[29.9,54.5]],
["b",[39.55,58.75,2],[39.55,59.5,1],[39.55,60]],
["r",[42.33,60],[41.26,57.9,2],[39.66,54.94,1],[38.54,52.58]],
["b",[56.38,54.7,2],[58.9,55.62,2],[61.46,53.5,2],[63.17,51.14,1],[63.55,48.35,2],[64.57,44.38]],
["r",[57.55,60],[57.4,56.8,1],[56.38,54.7]],
["r",[61.46,53.5],[62.27,57.5,1],[62.4,59,1],[62.5,60]]
];
const crosses6 = [[3.37,57],[12.77,54.2],[4.54,45.3],[7.6,40.66],[0.8,32.55],[2.94,27.7],[9.35,28.23],[17.58,34.74],[19.56,29.16],[26.6,46.15],[29,58.83],[37.73,55.6],[41,59.17],[50.6,53.6],[52.6,41.76],[37,40.4],[30.9,30],[46.07,31.1],[21.38,20.8],[42.76,17.4],[62.85,19.44],[55.2,23.25],[14.2,15.64],[8.4,9],[16.78,4.23],[22.45,9.13],[28.86,2.87],[33,9.13],[39.7,5.33],[45.54,9.55],[52.1,14.1],[58.8,5.07],[64.24,9.3],[68.25,2.8],[72.2,8],[31.37,14.8],[63.87,33.3],[71.9,32.7],[71.4,28.3],[72.2,51.4],[64.1,51.65],[71.46,57.74],[59,55.45]];

const xTicks = [0,10,20,30,40,50,60,70];
const yTicks1 = [0,2,4,6,8,10];
const yTicks2 = [0,5,10,15,20];
const yTicks3 = [0,10,20,30];
const yTicks4 = [0,10,20,30,40];
const yTicks5 = [0,10,20,30,40,50];
const yTicks6 = [0,20,40,60];

const panels = [
 {curves:curves1,crosses:crosses1,yMax:10,yTicks:yTicks1,l:55,r:580,t:12.3,b:248.3},
 {curves:curves2,crosses:crosses2,yMax:20,yTicks:yTicks2,l:657.4,r:1187,t:12,b:248},
 {curves:curves3,crosses:crosses3,yMax:30,yTicks:yTicks3,l:56.5,r:587,t:310,b:545.7},
 {curves:curves4,crosses:crosses4,yMax:40,yTicks:yTicks4,l:661,r:1189.6,t:309.3,b:544.7},
 {curves:curves5,crosses:crosses5,yMax:50,yTicks:yTicks5,l:61.5,r:586,t:608.3,b:845},
 {curves:curves6,crosses:crosses6,yMax:60,yTicks:yTicks6,l:661,r:1187,t:608,b:845}
];
const svg = d3.select("#c");
const RED="#ff0000",BLUE="#0000ff";
panels.forEach((p,i)=>{
  const x=d3.scaleLinear([0,75],[p.l,p.r]), y=d3.scaleLinear([0,p.yMax],[p.b,p.t]);
  const g=svg.append("g");
  const ax=g.append("g").attr("transform",`translate(0,${p.b})`).call(d3.axisBottom(x).tickValues(xTicks).tickFormat(d3.format("d")).tickSize(-(p.b-p.t)).tickPadding(9));
  const ay=g.append("g").attr("transform",`translate(${p.l},0)`).call(d3.axisLeft(y).tickValues(p.yTicks).tickFormat(d3.format("d")).tickSize(-(p.r-p.l)).tickPadding(7));
  [ax,ay].forEach(a=>a.selectAll(".tick line").attr("stroke","#ececec").attr("stroke-width",1));
  ax.select(".domain").attr("stroke","#949494").attr("stroke-width",1.3);
  ay.select(".domain").attr("stroke","#cccccc").attr("stroke-width",2);
  ax.selectAll(".tick text").attr("dy","0.72em");
  g.append("text").attr("class","lab").attr("text-anchor","middle").attr("x",(p.l+p.r)/2-13).attr("y",p.b+39).text("x/ℓ");
  g.append("text").attr("class","lab").attr("text-anchor","middle").attr("transform",`translate(${p.l-28},${(p.t+p.b)/2}) rotate(-90)`).text("y/ℓ");
  const line=d3.line().x(d=>x(d[0])).y(d=>y(d[1])).curve(d3.curveCatmullRom.alpha(0.5));
  const runs=[],greens=new Map(),pinks=new Map();
  p.curves.forEach(c=>{
    let col=c[0]==="r"?RED:BLUE, cur=[c[1]];
    for(let k=1;k<c.length;k++){
      const q=c[k],m=q[2];
      const key=q[0]+","+q[1];
      if(m===1||m===3)greens.set(key,q);
      if(m===2||m===4)pinks.set(key,q);
      if(k>1)cur.push(q);
      if(m===1||m===2){ if(cur.length>1)runs.push({col,pts:cur}); cur=[q]; if(k>1) col=(col===RED?BLUE:RED); }
    }
    if(cur.length>1)runs.push({col,pts:cur});
  });
  g.append("g").attr("fill","none").attr("stroke-width",1.9).selectAll("path").data(runs).join("path").attr("stroke",d=>d.col).attr("d",d=>line(d.pts));
  g.append("g").selectAll("circle").data([...greens.values()]).join("circle").attr("cx",d=>x(d[0])).attr("cy",d=>y(d[1])).attr("r",4.1).attr("fill","none").attr("stroke","#5f9a62").attr("stroke-width",1);
  g.append("g").selectAll("circle").data([...pinks.values()]).join("circle").attr("cx",d=>x(d[0])).attr("cy",d=>y(d[1])).attr("r",4.1).attr("fill","rgba(255,120,120,.14)").attr("stroke","#9a7676").attr("stroke-width",1);
  const cr=g.append("g").selectAll("g").data(p.crosses).join("g").attr("transform",d=>`translate(${x(d[0])},${y(d[1])})`);
  cr.append("circle").attr("r",4.1).attr("fill","rgba(110,110,255,.2)").attr("stroke","#7070c8").attr("stroke-width",1);
  cr.append("path").attr("d","M-2.5,-2.5L2.5,2.5M-2.5,2.5L2.5,-2.5").attr("stroke","#6a6ad0").attr("stroke-width",.8);
});
</script></body></html>
